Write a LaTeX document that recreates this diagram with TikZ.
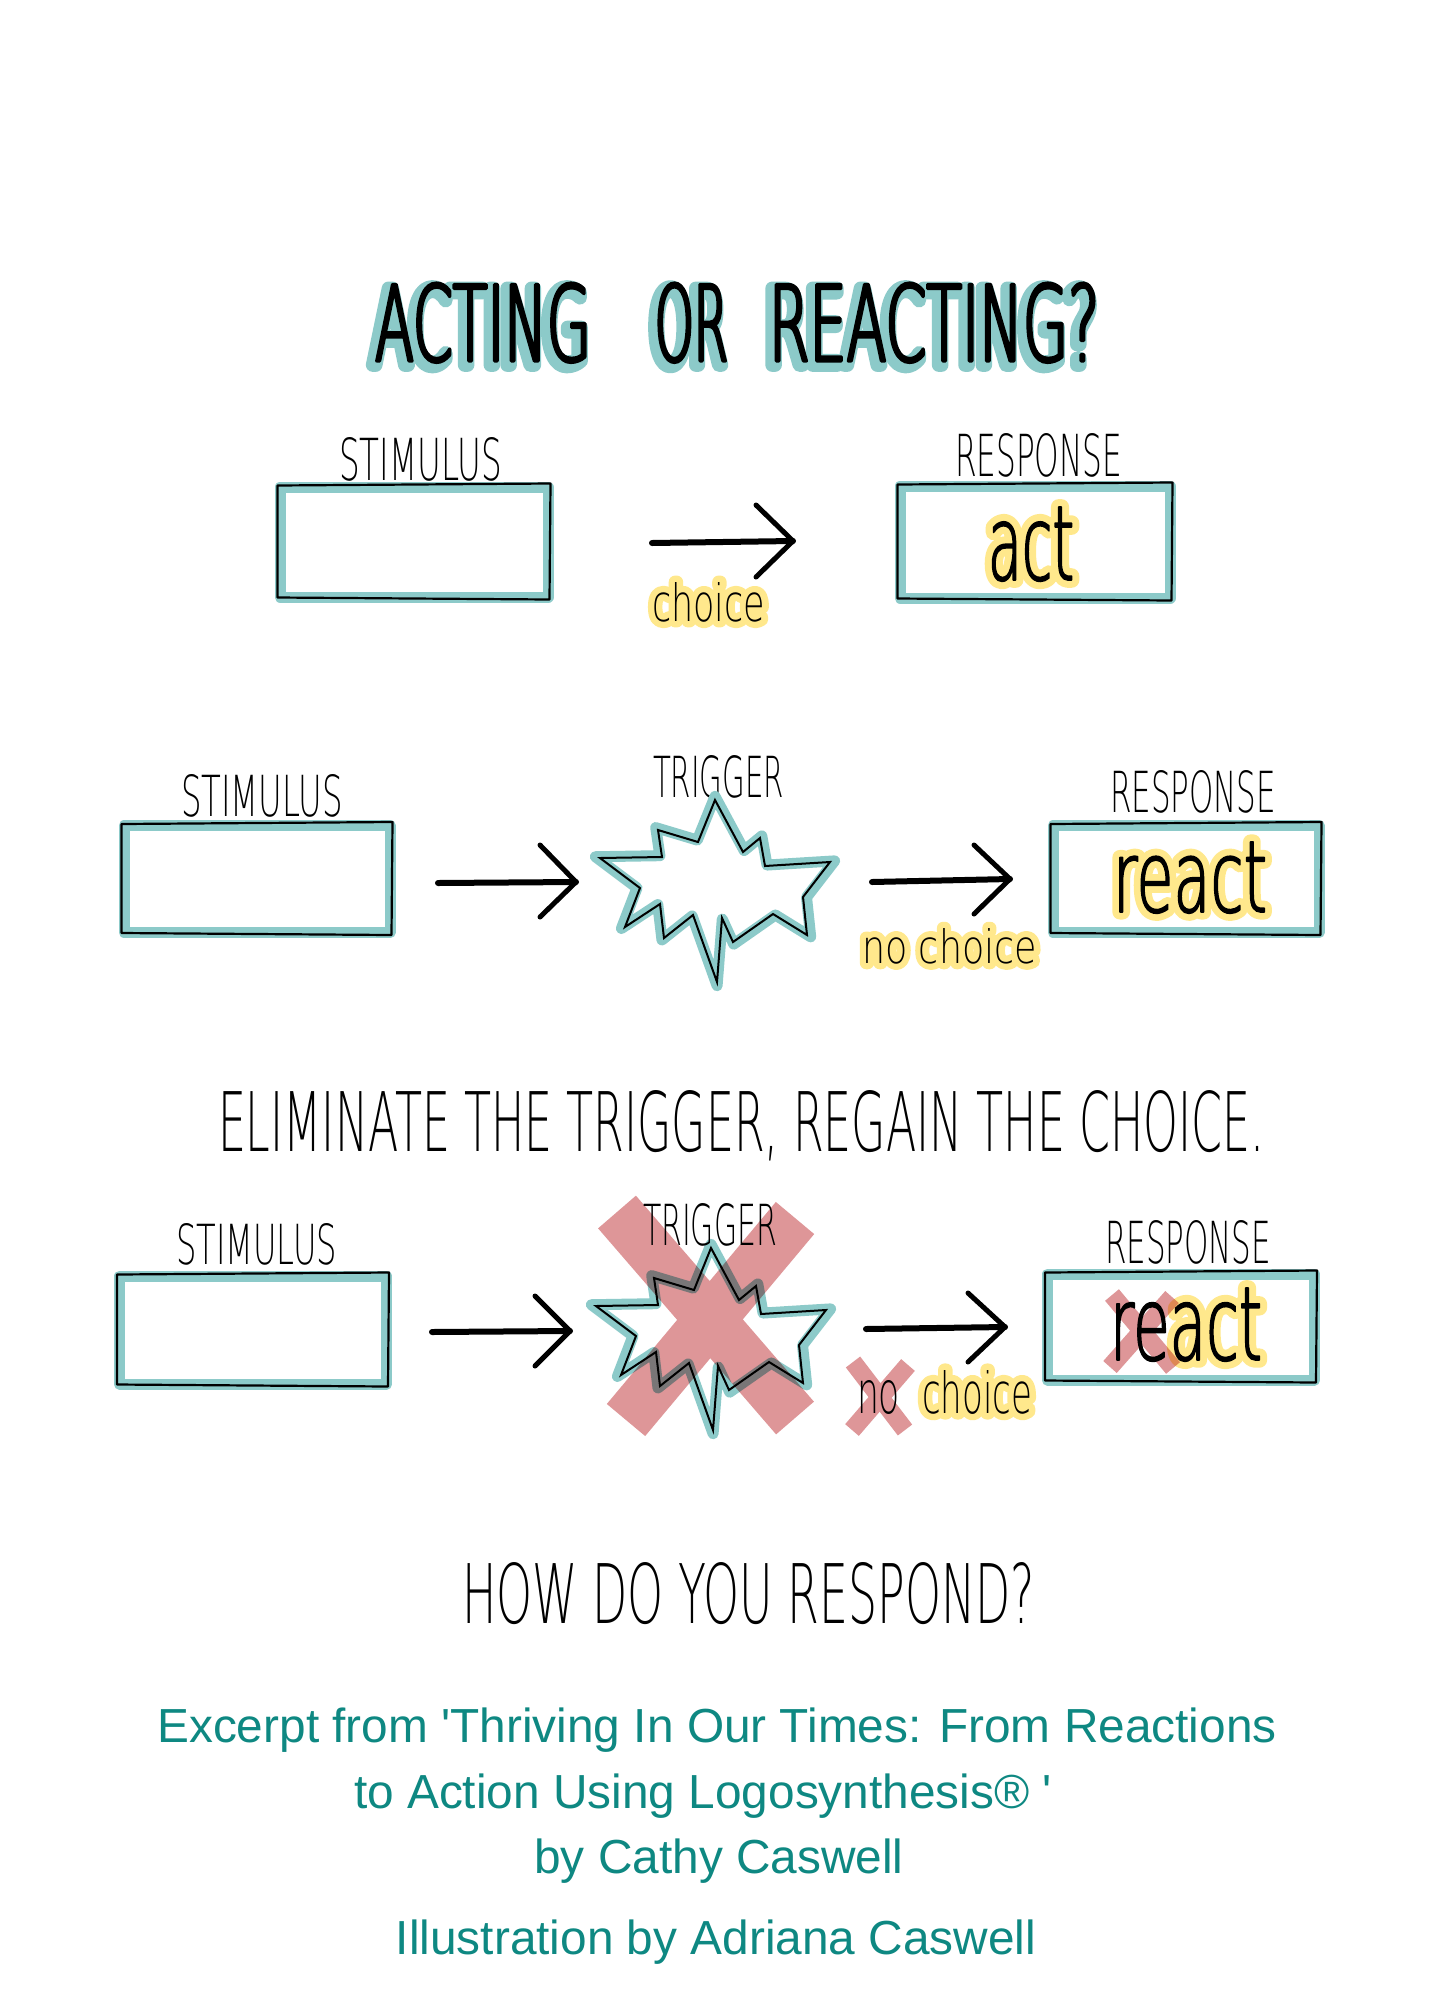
\documentclass[tikz,border=0pt]{standalone}
\usepackage{fontspec}
\setmainfont{Liberation Sans}
\newfontfamily\handfont{DejaVu Sans ExtraLight}
\newfontfamily\footfont{Liberation Sans}
\usepackage{graphicx}
\definecolor{tealband}{RGB}{140,202,201}
\definecolor{hlyellow}{RGB}{255,232,140}
\definecolor{xpink}{RGB}{222,150,152}
\definecolor{foot}{RGB}{14,136,130}
\newsavebox{\hwbox}
% stretch factor so that the final scaling is (nearly) uniform
\newcommand{\hwratio}[3]{%
  \sbox{\hwbox}{\fontsize{10}{12}\handfont #3}%
  \pgfmathsetmacro\hwr{(#1/#2)/(\wd\hwbox/\ht\hwbox)}}
% width, height, text
\newcommand{\hw}[3]{\hwratio{#1}{#2}{#3}%
  \resizebox{#1pt}{#2pt}{\fontsize{10}{12}\handfont\addfontfeature{FakeStretch=\hwr}#3}}
% width, height, text, embolden (round joins for the stroked glyphs)
\newcommand{\hwb}[4]{\hwratio{#1}{#2}{#3}%
  \resizebox{#1pt}{#2pt}{\special{pdf:literal direct 1 j 1 J}\fontsize{10}{12}\handfont\addfontfeature{FakeStretch=\hwr,FakeBold=#4}#3}}
\tikzset{
  txt/.style={inner sep=0pt, outer sep=0pt, anchor=base west},
  hl/.style={txt, text=hlyellow},
  sh/.style={txt, text=tealband},
  tbox/.style={draw=tealband, line width=11pt, rectangle, inner sep=0pt, line join=round},
  blk/.style={draw=black, line width=2.2pt, line join=round},
  arr/.style={line width=6pt, line cap=round, line join=round},
  ahead/.style={line width=5pt, line cap=round, line join=round},
  xband/.style={draw=xpink, line width=50pt},
  xsmall/.style={draw=xpink, line width=18pt},
  foottxt/.style={inner sep=0pt, text=foot, font=\footfont\fontsize{47.8}{52}\selectfont, anchor=base},
  burst/.pic={
    \draw[tealband, line width=11pt, line join=round, scale=1.04]
      (0,-90) -- (28,-38) -- (45,-52) -- (50,-24) -- (115,-28) -- (88,7) -- (92,45) -- (58,24) -- (18,52) -- (7,28) -- (2,92) -- (-22,25) -- (-51,48) -- (-55,14) -- (-90,37) -- (-75,-2) -- (-115,-32) -- (-53,-33) -- (-57,-60) -- (-17,-48) -- cycle;
    \draw[black, line width=2pt, line join=miter]
      (0,-90) -- (28,-38) -- (45,-52) -- (50,-24) -- (115,-28) -- (88,7) -- (92,45) -- (58,24) -- (18,52) -- (7,28) -- (2,92) -- (-22,25) -- (-51,48) -- (-55,14) -- (-90,37) -- (-75,-2) -- (-115,-32) -- (-53,-33) -- (-57,-60) -- (-17,-48) -- cycle;
  }
}
\newcommand{\inner}[1]{%
  \draw[blk] ([shift={(3,4)}]#1.north west) -- ([shift={(-3,2)}]#1.north east) -- ([shift={(-4,-3)}]#1.south east) -- ([shift={(3,-5)}]#1.south west) -- cycle;}
\begin{document}
\begin{tikzpicture}[x=1pt,y=-1pt]
\fill[white] (0,0) rectangle (1428,2000);
\useasboundingbox (0,0) rectangle (1428,2000);

% ---------- title ----------
\coordinate (t1) at (375,361);
\coordinate (t2) at (655,361);
\coordinate (t3) at (769,361);
\node[sh, shift={(-4,4)}] (title1s) at (t1) {\hwb{216}{78}{ACTING}{13}};
\node[sh, shift={(-4,4)}] (title2s) at (t2) {\hwb{73}{78}{OR}{13}};
\node[sh, shift={(-4,4)}] (title3s) at (t3) {\hwb{330}{78}{REACTING?}{13}};
\node[txt] (title1) at (t1) {\hwb{216}{78}{ACTING}{3}};
\node[txt] (title2) at (t2) {\hwb{73}{78}{OR}{3}};
\node[txt] (title3) at (t3) {\hwb{330}{78}{REACTING?}{3}};

% ---------- row 1 ----------
\node[txt] (r1stl) at (339,480) {\hw{163}{43}{STIMULUS}};
\node[txt] (r1rsl) at (955,476) {\hw{167}{43}{RESPONSE}};
\node[tbox, minimum width=268pt, minimum height=110pt] (s1) at (414,542) {};
\inner{s1}
\node[tbox, minimum width=270pt, minimum height=112pt] (p1) at (1035,542) {};
\inner{p1}
\coordinate (a1s) at (652,543); \coordinate (a1e) at (793,541);
\draw[arr] (a1s) -- (a1e);
\draw[ahead] ([shift={(-37,-36)}]a1e) -- (a1e) -- ([shift={(-37,36)}]a1e);
\coordinate (c1) at (652,621);
\node[hl] (choice1g) at (c1) {\hwb{113}{39}{choice}{25}};
\node[txt] (choice1) at (c1) {\hw{113}{39}{choice}};
\coordinate (act1) at (988,580);
\node[hl] (act1g) at (act1) {\hwb{86}{73}{act}{15}};
\node[txt] (acttext) at (act1) {\hwb{86}{73}{act}{1.5}};

% ---------- row 2 ----------
\node[txt] (r2stl) at (181,816) {\hw{162}{42}{STIMULUS}};
\node[txt] (r2trl) at (653,797) {\hw{131}{42}{TRIGGER}};
\node[txt] (r2rsl) at (1110,812) {\hw{166}{42}{RESPONSE}};
\node[tbox, minimum width=266pt, minimum height=107pt] (s2) at (257,879) {};
\inner{s2}
\node[tbox, minimum width=266pt, minimum height=107pt] (p2) at (1186,879) {};
\inner{p2}
\pic (burst2) at (715,890) {burst};
\coordinate (b1s) at (438,883); \coordinate (b1e) at (576,882);
\draw[arr] (b1s) -- (b1e);
\draw[ahead] ([shift={(-36,-37)}]b1e) -- (b1e) -- ([shift={(-36,35)}]b1e);
\coordinate (b2s) at (872,882); \coordinate (b2e) at (1010,879);
\draw[arr] (b2s) -- (b2e);
\draw[ahead] ([shift={(-36,-34)}]b2e) -- (b2e) -- ([shift={(-36,35)}]b2e);
\coordinate (c2) at (862,963);
\node[hl] (nochoice2g) at (c2) {\hwb{175}{35}{no choice}{27}};
\node[txt] (nochoice2) at (c2) {\hw{175}{35}{no choice}};
\coordinate (re2) at (1113,912);
\node[hl] (react2g) at (re2) {\hwb{154}{70}{react}{15}};
\node[txt] (react2) at (re2) {\hwb{154}{70}{react}{1.5}};

% ---------- middle sentence ----------
\node[txt] (elim) at (218,1151) {\hw{1046}{61}{ELIMINATE THE TRIGGER, REGAIN THE CHOICE.}};

% ---------- row 3 ----------
\node[txt] (r3stl) at (176,1264) {\hw{161}{41}{STIMULUS}};
\node[txt] (r3rsl) at (1105,1263) {\hw{166}{43}{RESPONSE}};
\node[tbox, minimum width=267pt, minimum height=108pt] (s3) at (253,1330) {};
\inner{s3}
\node[tbox, minimum width=267pt, minimum height=106pt] (p3) at (1181,1327) {};
\inner{p3}
\pic (burst3) at (711,1338) {burst};
\coordinate (d1s) at (432,1332); \coordinate (d1e) at (570,1331);
\draw[arr] (d1s) -- (d1e);
\draw[ahead] ([shift={(-35,-35)}]d1e) -- (d1e) -- ([shift={(-35,35)}]d1e);
\coordinate (d2s) at (866,1329); \coordinate (d2e) at (1005,1327);
\draw[arr] (d2s) -- (d2e);
\draw[ahead] ([shift={(-37,-34)}]d2e) -- (d2e) -- ([shift={(-37,35)}]d2e);
\coordinate (c3) at (922,1413);
\coordinate (re3) at (1110,1360);
\node[txt] (no3) at (857,1413) {\hw{43}{33}{no}};
\node[hl] (react3g) at (re3) {\hwb{152}{72}{\textcolor{white}{re}act}{15}};
\node[txt] (react3) at (re3) {\hwb{152}{72}{react}{1.5}};
\node[hl] (choice3g) at (c3) {\hwb{110}{43}{choice}{23}};
\node[txt] (choice3) at (c3) {\hw{110}{43}{choice}};
\node[txt] (r3trl) at (643,1245) {\hw{134}{42}{TRIGGER}};
\begin{scope}[blend mode=multiply]
\draw[xband] (617,1212) -- (795,1418) (795,1218) -- (626,1420);
\draw[xsmall] (853,1362) -- (905,1430) (908,1365) -- (852,1430);
\draw[xsmall] (1112,1295) -- (1173,1368) (1172,1297) -- (1110,1367);
\end{scope}

% ---------- closing question ----------
\node[txt] (howq) at (462,1623) {\hw{573}{61}{HOW DO YOU RESPOND?}};

% ---------- footer ----------
\node[foottxt] (f1) at (717,1742) {Excerpt from 'Thriving In Our Times: From Reactions};
\node[foottxt] (f2) at (703,1808) {to Action Using Logosynthesis® '};
\node[foottxt] (f3) at (719,1873) {by Cathy Caswell};
\node[foottxt] (f4) at (716,1954) {Illustration by Adriana Caswell};
\end{tikzpicture}
\end{document}
